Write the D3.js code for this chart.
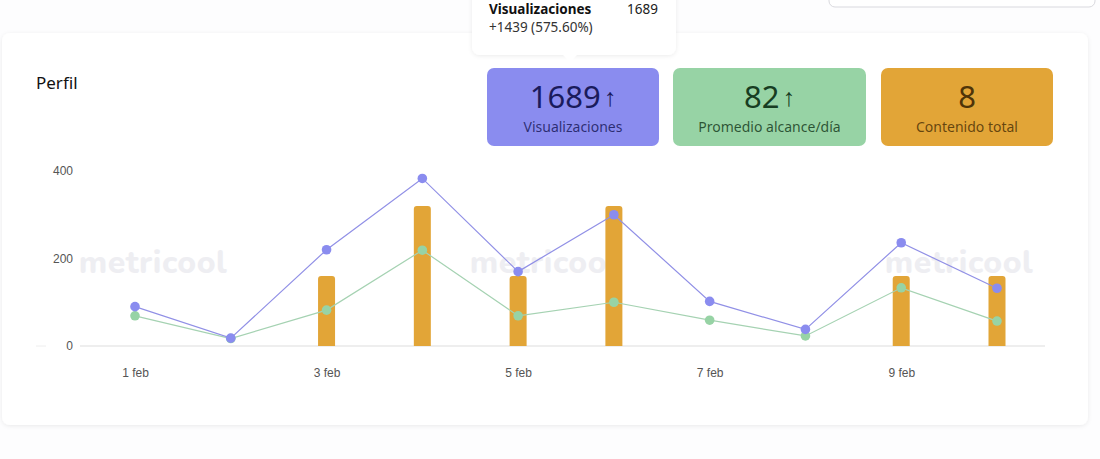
<!DOCTYPE html>
<html lang="es">
<head>
<meta charset="UTF-8">
<title>Perfil</title>
<script src="https://d3js.org/d3.v7.min.js"></script>
<style>
    html, body { margin: 0; padding: 0; background: #fdfdfe; }
    svg { display: block; }
    .axisText { font-family: "Liberation Sans", Arial, sans-serif; font-size: 12px; fill: #555; }
    .ui { font-family: "Noto Sans", sans-serif; }
</style>
</head>
<body>
<svg id="chart" width="1100" height="459"></svg>
<script>
    // data
    const days = ["1 feb", "2 feb", "3 feb", "4 feb", "5 feb", "6 feb", "7 feb", "8 feb", "9 feb", "10 feb"];
    const tickDays = ["1 feb", "3 feb", "5 feb", "7 feb", "9 feb"];
    const views = [90, 18, 220, 383, 170, 300, 102, 38, 236, 132];
    const reach = [69, 17, 82, 219, 69, 100, 59, 23, 133, 57];
    const posts = [0, 0, 1, 2, 1, 2, 0, 0, 1, 1];
    const yTicks = [0, 200, 400];

    const stats = [
        { value: "1689", label: "Visualizaciones", arrow: true, fill: "#8a8cef", ink: "#1a1b5c" },
        { value: "82", label: "Promedio alcance/día", arrow: true, fill: "#97d3a5", ink: "#173d22" },
        { value: "8", label: "Contenido total", arrow: false, fill: "#e2a537", ink: "#4f3408" }
    ];

    const svg = d3.select("#chart");

    const defs = svg.append("defs");
    const sh = defs.append("filter").attr("id", "shadow")
        .attr("x", "-5%").attr("y", "-20%").attr("width", "110%").attr("height", "140%");
    sh.append("feDropShadow").attr("dx", 0).attr("dy", 1).attr("stdDeviation", 2)
        .attr("flood-color", "#000").attr("flood-opacity", 0.08);

    // top right input box (cut off)
    svg.append("rect").attr("x", 829).attr("y", -12).attr("width", 266).attr("height", 19)
        .attr("rx", 6).attr("fill", "#fff").attr("stroke", "#d9d9de");

    // card
    svg.append("rect").attr("x", 2).attr("y", 33).attr("width", 1086).attr("height", 392)
        .attr("rx", 8).attr("fill", "#fff").attr("filter", "url(#shadow)");

    svg.append("text").attr("class", "ui").attr("x", 36).attr("y", 89)
        .attr("font-size", 17).attr("fill", "#111").text("Perfil");

    // stat boxes
    const boxX = [487, 673, 881], boxW = [172, 193, 172];
    const box = svg.selectAll(".stat").data(stats).join("g").attr("class", "stat ui")
        .attr("transform", (d, i) => `translate(${boxX[i]},68)`);
    box.append("rect").attr("width", (d, i) => boxW[i]).attr("height", 78).attr("rx", 7)
        .attr("fill", d => d.fill);
    const num = box.append("text").attr("x", (d, i) => boxW[i] / 2).attr("y", 40)
        .attr("text-anchor", "middle").attr("fill", d => d.ink).attr("font-size", 31);
    num.append("tspan").text(d => d.value);
    num.append("tspan").attr("font-size", 25).attr("font-weight", 700).attr("dx", 3).attr("dy", -2)
        .text(d => d.arrow ? "↑" : "");
    box.append("text").attr("x", (d, i) => boxW[i] / 2).attr("y", 64)
        .attr("text-anchor", "middle").attr("fill", d => d.ink).attr("fill-opacity", 0.85)
        .attr("font-size", 14).text(d => d.label);

    // tooltip
    const tip = svg.append("g").attr("class", "ui");
    tip.append("rect").attr("x", 472).attr("y", -12).attr("width", 204).attr("height", 67)
        .attr("rx", 8).attr("fill", "#fff").attr("filter", "url(#shadow)");
    tip.append("path").attr("d", "M562,54 L570,62 L578,54 Z").attr("fill", "#fff");
    tip.append("text").attr("x", 489).attr("y", 14).attr("font-size", 13.5).attr("font-weight", 700)
        .attr("fill", "#111").text("Visualizaciones");
    tip.append("text").attr("x", 658).attr("y", 14).attr("font-size", 13.5).attr("text-anchor", "end")
        .attr("fill", "#222").text("1689");
    tip.append("text").attr("x", 489).attr("y", 32).attr("font-size", 13.5)
        .attr("fill", "#333").text("+1439 (575.60%)");

    // chart
    const x = d3.scalePoint().domain(days).range([135, 997]);
    const y = d3.scaleLinear().domain([0, 400]).range([346, 171]);
    const y2 = d3.scaleLinear().domain([0, 2.5]).range([346, 171]);

    // watermarks
    svg.selectAll(".wm").data([153, 544, 959]).join("text").attr("class", "wm")
        .attr("x", d => d).attr("y", 273).attr("text-anchor", "middle")
        .attr("font-family", "Nunito, 'Noto Sans', sans-serif").attr("font-weight", 800)
        .attr("font-size", 32).attr("letter-spacing", 0.5).attr("fill", "#eeeef2").text("metricool");

    // y axis
    const yAxis = svg.append("g").attr("transform", "translate(73,0)")
        .call(d3.axisLeft(y).tickValues(yTicks).tickSize(0).tickPadding(0));
    yAxis.select(".domain").remove();
    yAxis.selectAll("text").attr("class", "axisText");

    svg.append("line").attr("x1", 80).attr("x2", 1045).attr("y1", y(0)).attr("y2", y(0))
        .attr("stroke", "#ddd");
    svg.append("line").attr("x1", 36).attr("x2", 46).attr("y1", y(0)).attr("y2", y(0))
        .attr("stroke", "#eee");

    // x axis
    const xAxis = svg.append("g").attr("transform", `translate(0,${y(0) + 22})`)
        .call(d3.axisBottom(x).tickValues(tickDays).tickSize(0).tickPadding(0));
    xAxis.select(".domain").remove();
    xAxis.selectAll("text").attr("class", "axisText");

    // bars
    const bw = 17;
    svg.selectAll(".bar").data(days.map((d, i) => ({ d, v: posts[i] })).filter(o => o.v > 0))
        .join("path").attr("class", "bar").attr("fill", "#e2a537")
        .attr("d", o => {
            const x0 = x(o.d) - bw / 2, top = y2(o.v), bot = y(0), r = 3;
            return `M${x0},${bot} V${top + r} Q${x0},${top} ${x0 + r},${top} H${x0 + bw - r} Q${x0 + bw},${top} ${x0 + bw},${top + r} V${bot} Z`;
        });

    // lines
    const series = [
        { vals: reach, line: "#a5d2b2", dot: "#97d3a5" },
        { vals: views, line: "#9190e6", dot: "#8a8cef" }
    ];
    const line = d3.line().x((v, i) => x(days[i])).y(v => y(v));
    series.forEach(s => {
        svg.append("path").datum(s.vals).attr("d", line).attr("fill", "none")
            .attr("stroke", s.line).attr("stroke-width", 1.2);
        svg.selectAll(null).data(s.vals).join("circle")
            .attr("cx", (v, i) => x(days[i])).attr("cy", v => y(v)).attr("r", 4.8)
            .attr("fill", s.dot);
    });
</script>
</body>
</html>
